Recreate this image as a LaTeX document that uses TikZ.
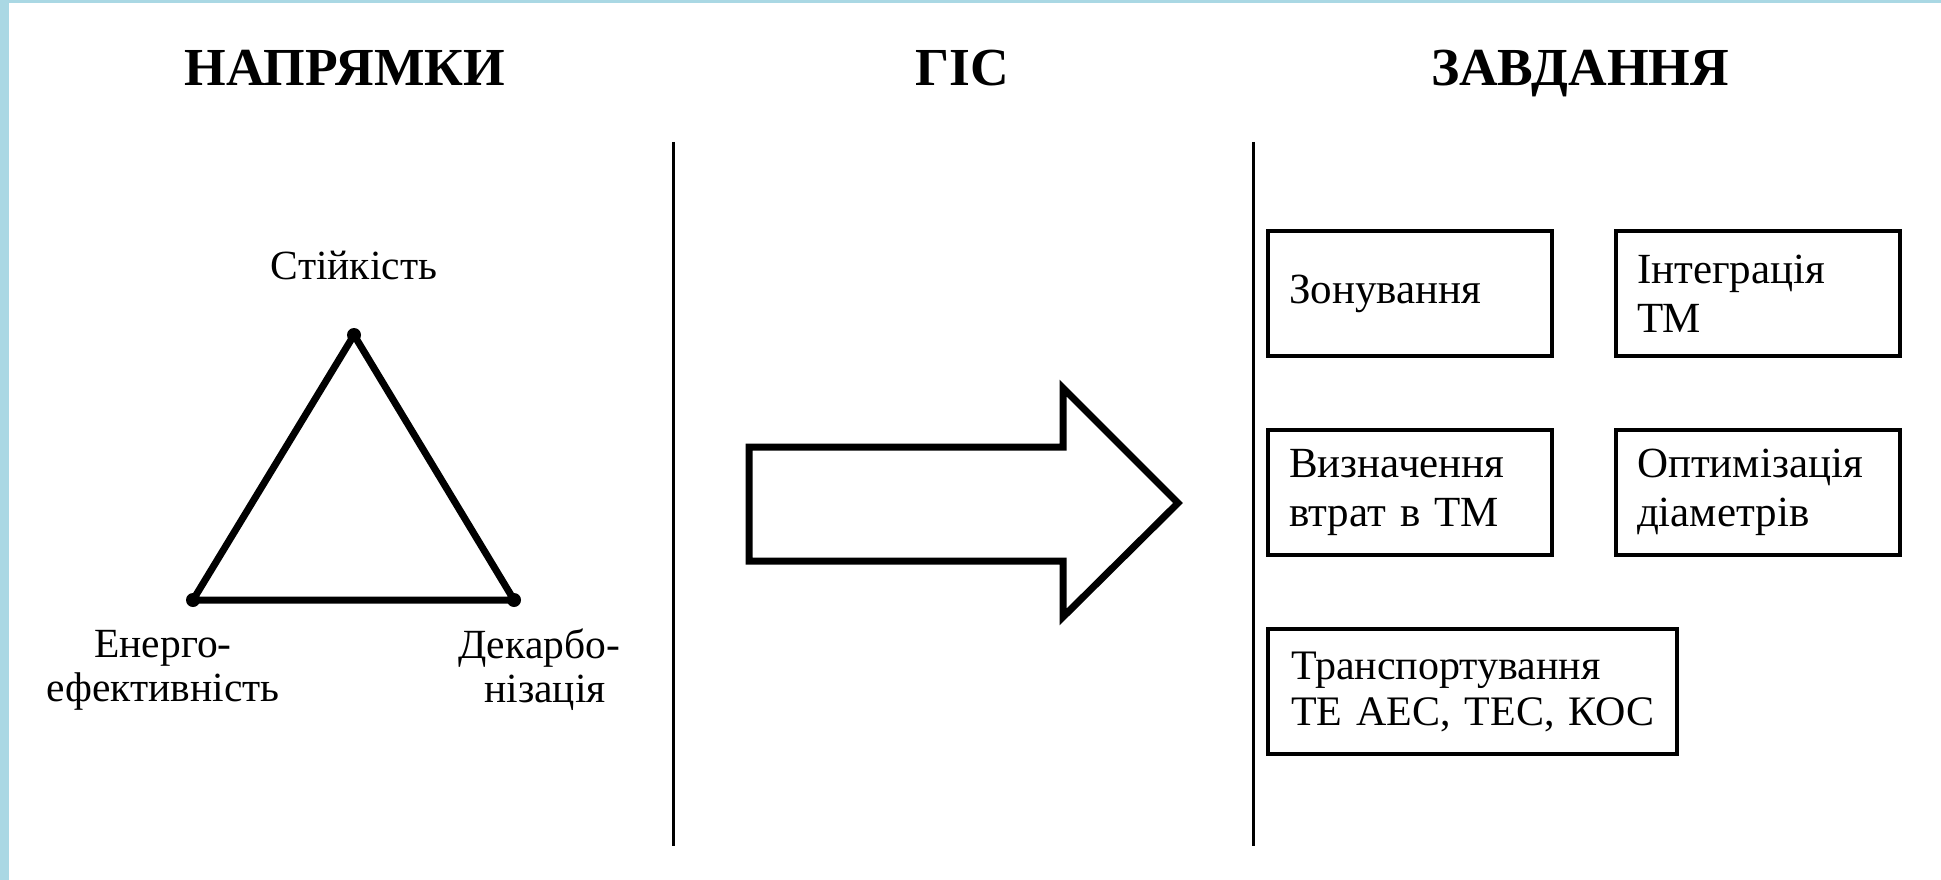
\documentclass[tikz,border=0pt]{standalone}
\usepackage{fontspec}
\setmainfont{Liberation Serif}
\usepackage{tikz}
\usetikzlibrary{positioning}
\definecolor{frameblue}{RGB}{170,216,228}

\begin{document}
\begin{tikzpicture}[
    x=1pt, y=-1pt,
    node distance=70pt and 60pt,
    head/.style={anchor=base, inner sep=0pt, font=\fontsize{53.5}{60}\selectfont\bfseries},
    vlabel/.style={align=center, inner sep=0pt, font=\fontsize{41.5}{44}\selectfont},
    vertex/.style={circle, fill, inner sep=0pt, minimum size=14pt},
    taskbox/.style={draw, line width=4pt, minimum height=125pt, inner xsep=21pt, inner ysep=0pt,
                    text width=242pt, align=left, font=\fontsize{43}{49}\selectfont},
    sep/.style={line width=3pt}
]

% Frame
\useasboundingbox (0,0) rectangle (1941,880);
\fill[frameblue] (0,0) rectangle (1941,880);
\fill[white] (9,3) rectangle (1941,880);

% Headings
\node[head] (H1) at (345,86) {НАПРЯМКИ};
\node[head] (H2) at (962,86) {ГІС};
\node[head] (H3) at (1580,86) {ЗАВДАННЯ};

% Separators
\coordinate (L1t) at (673,142);
\coordinate (L1b) at (673,846);
\coordinate (L2t) at (1253,142);
\coordinate (L2b) at (1253,846);
\draw[sep] (L1t) -- (L1b);
\draw[sep] (L2t) -- (L2b);

% Triangle
\node[vertex] (St) at (354,335) {};
\node[vertex] (En) at (193,600) {};
\node[vertex] (De) at (514,600) {};
\draw[line width=7pt, line join=round] (St.center) -- (En.center) -- (De.center) -- cycle;

% Labels
\node[vlabel, above=48pt of St] (lS) {Стійкість};
\node[vlabel, below=23pt of En, xshift=-30pt] (lE) {Енерго-\\ефективність};
\node[vlabel, below=21pt of De, xshift=25pt] (lD) {Декарбо-\\\hspace{12pt}нізація};

% GIS arrow
\draw[line width=7pt, line join=miter] (749,447) -- (1063,447) -- (1063,388) -- (1178,503)
    -- (1063,617) -- (1063,561) -- (749,561) -- cycle;

% Tasks
\node[taskbox] (B1) at (1410,293.5) {Зонування};
\node[taskbox, right=of B1] (B2) {Інтеграція\\ТМ};
\node[taskbox, below=of B1] (B3) {Визначення\\втрат в ТМ};
\node[taskbox, below=of B2] (B4) {Оптимізація\\діаметрів};
\node[taskbox, below=of B3.south west, anchor=north west, inner xsep=23pt, text width=363pt,
      font=\fontsize{42}{46}\selectfont] (B5) {Транспортування\\ТЕ~АЕС,~ТЕС,~КОС};

\end{tikzpicture}
\end{document}
